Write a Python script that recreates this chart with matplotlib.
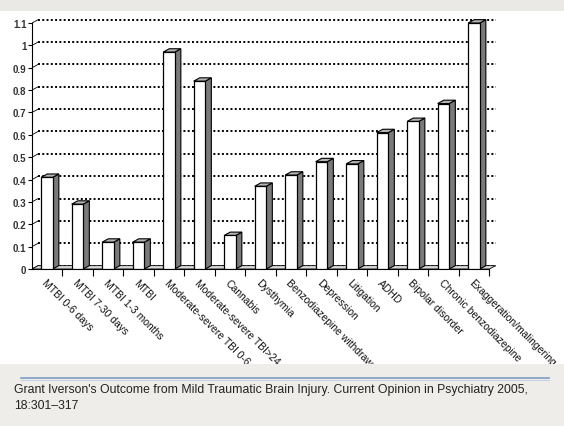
import numpy as np
import matplotlib
matplotlib.use('Agg')
import matplotlib.pyplot as plt
from matplotlib.patches import Polygon, Rectangle
from matplotlib.lines import Line2D

plt.rcParams['font.family'] = ['Liberation Sans', 'DejaVu Sans']

categories = ['MTBI 0-6 days', 'MTBI 7-30 days', 'MTBI 1-3 months', 'MTBI',
              'Moderate-severe TBI 0-6', 'Moderate-severe TBI>24', 'Cannabis',
              'Dysthymia', 'Benzodiazepine withdrawal', 'Depression', 'Litigation',
              'ADHD', 'Bipolar disorder', 'Chronic benzodiazepine',
              'Exaggeration/malingering']
values = [0.41, 0.29, 0.12, 0.12, 0.97, 0.84, 0.15, 0.37, 0.42, 0.48, 0.47,
          0.61, 0.66, 0.74, 1.10]
yticks = [0, 0.1, 0.2, 0.3, 0.4, 0.5, 0.6, 0.7, 0.8, 0.9, 1.0, 1.1]
ytick_labels = ['0', '0.1', '0.2', '0.3', '0.4', '0.5', '0.6', '0.7', '0.8', '0.9', '1', '1.1']
caption = ("Grant Iverson's Outcome from Mild Traumatic Brain Injury. Current Opinion in Psychiatry 2005,\n"
           "18:301\u2013317")

W, H = 564, 427
fig = plt.figure(figsize=(W / 100, H / 100), dpi=100)
fig.patch.set_facecolor('white')

# pixel layout of the plot area
x0_px, x_unit = 32, 30.5
y0_px, y_unit = 270, 223.6
xmax, ymax = 15.2, 1.13
ax = fig.add_axes([x0_px / W, (H - y0_px) / H, xmax * x_unit / W, ymax * y_unit / H])
ax.set_xlim(0, xmax)
ax.set_ylim(0, ymax)
ax.set_facecolor('none')

n = len(categories)
dx, dy = 0.2, 0.015      # 3d depth offset
bl, bw = 0.3, 0.38       # bar left offset and front width

# back wall gridlines (dotted)
for v in yticks:
    ax.plot([dx, n + dx], [v + dy, v + dy], color='black', lw=1.4,
            linestyle=(0, (1.0, 1.2)), zorder=1)
    ax.plot([0, dx], [v, v + dy], color='black', lw=0.6, zorder=1)

# floor
ax.add_patch(Polygon([[0, 0], [n, 0], [n + dx, dy], [dx, dy]], closed=True,
                     facecolor='#d8d8d8', edgecolor='black', lw=0.6, zorder=2))

for i, v in enumerate(values):
    xl = i + bl
    xr = xl + bw
    # side face
    ax.add_patch(Polygon([[xr, 0], [xr + dx, dy], [xr + dx, v + dy], [xr, v]], closed=True,
                         facecolor='#7a7a7a', edgecolor='black', lw=0.8, zorder=3))
    # top face
    ax.add_patch(Polygon([[xl, v], [xr, v], [xr + dx, v + dy], [xl + dx, v + dy]], closed=True,
                         facecolor='#b4b4b4', edgecolor='black', lw=0.8, zorder=3))
    # front face
    ax.add_patch(Rectangle((xl, 0), bw, v, facecolor='white', edgecolor='black',
                           lw=0.9, zorder=4))

for s in ['top', 'right']:
    ax.spines[s].set_visible(False)
ax.spines['left'].set_bounds(0, 1.1)
ax.spines['bottom'].set_bounds(0, n)
ax.spines['left'].set_linewidth(0.8)
ax.spines['bottom'].set_linewidth(0.8)

ax.set_yticks(yticks)
ax.set_yticklabels(ytick_labels, fontsize=7, fontweight='bold', color='#333333')
ax.tick_params(axis='y', length=3, width=0.8, pad=1)

ax.set_xticks(np.arange(1, n + 1))
ax.set_xticklabels([])
ax.tick_params(axis='x', which='major', length=5, width=0.8)
ax.set_xticks(np.arange(n) + 0.5, minor=True)
ax.set_xticklabels(categories, minor=True, rotation=-45, ha='left', va='top',
                   rotation_mode='anchor', fontsize=7.5, color='#111111')
ax.tick_params(axis='x', which='minor', length=0, pad=6)

# slide bands
fig.patches.append(Rectangle((0, 1 - 12 / H), 1, 12 / H, transform=fig.transFigure,
                             facecolor='#ebe9e5', edgecolor='none', zorder=5))
fig.patches.append(Rectangle((0, 0), 1, (H - 365) / H, transform=fig.transFigure,
                             facecolor='#efede9', edgecolor='none', zorder=5))
fig.lines.append(Line2D([21 / W, 549 / W], [1 - 379 / H, 1 - 379 / H], transform=fig.transFigure,
                        color='#7f9cc6', lw=1.2, zorder=6))
fig.lines.append(Line2D([21 / W, 549 / W], [1 - 381 / H, 1 - 381 / H], transform=fig.transFigure,
                        color='#c4d2e6', lw=0.8, zorder=6))
fig.text(14 / W, 1 - 398 / H, caption, fontsize=8.8, color='#222222', ha='left',
         va='center', linespacing=1.55, zorder=7)

fig.savefig('out.png', dpi=100)
